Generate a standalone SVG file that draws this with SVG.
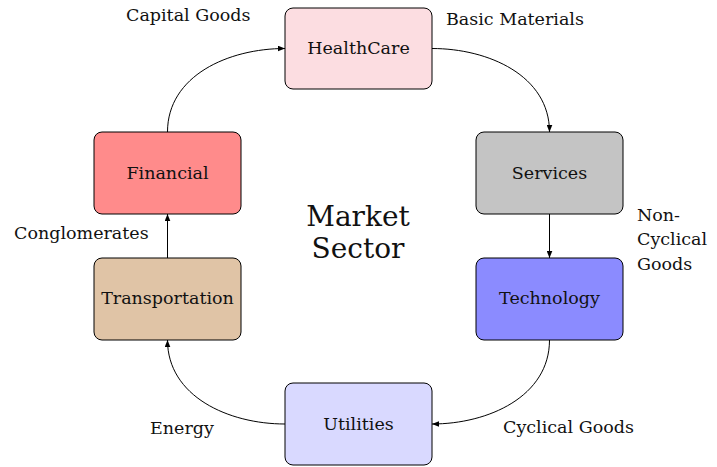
<svg xmlns="http://www.w3.org/2000/svg" width="717" height="467" viewBox="0 0 717 467">
<style>
.n{stroke:#000;stroke-width:1}
.t{font-family:'DejaVu Serif','Liberation Serif',serif;font-size:17.5px;fill:#111}
.c{text-anchor:middle}
.m{font-size:28px}
.e{fill:none;stroke:#000;stroke-width:1;marker-end:url(#a)}
</style>
<defs>
<marker id="a" viewBox="0 0 10 8" refX="10" refY="4" markerWidth="7" markerHeight="6" orient="auto" markerUnits="userSpaceOnUse">
<path d="M0,0 L10,4 L0,8 Z" fill="#000"/>
</marker>
</defs>
<rect width="717" height="467" fill="#fff"/>
<g id="connectors">
<path class="e" d="M167.5,132 C167.5,75.6 228.6,48.5 285,48.5"/>
<path class="e" d="M432,48.5 C488.4,48.5 549.5,75.6 549.5,132"/>
<path class="e" d="M549.5,214 L549.5,258"/>
<path class="e" d="M549.5,340 C549.5,396.4 488.4,424 432,424"/>
<path class="e" d="M285,424 C228.6,424 167.5,396.4 167.5,340"/>
<path class="e" d="M167.5,258 L167.5,214"/>
</g>
<g id="healthcare"><rect class="n" x="285" y="8" width="147" height="81" rx="8" fill="#fcdde1"/><text class="t c" x="358.5" y="54">HealthCare</text></g>
<g id="services"><rect class="n" x="476" y="132" width="147" height="82" rx="8" fill="#c4c4c4"/><text class="t c" x="549.5" y="179">Services</text></g>
<g id="technology"><rect class="n" x="476" y="258" width="147" height="82" rx="8" fill="#8b8bff"/><text class="t c" x="549.5" y="304">Technology</text></g>
<g id="utilities"><rect class="n" x="285" y="383" width="147" height="82" rx="8" fill="#d9d9ff"/><text class="t c" x="358.5" y="430">Utilities</text></g>
<g id="transportation"><rect class="n" x="94" y="258" width="147" height="82" rx="8" fill="#e0c4a6"/><text class="t c" x="167.5" y="304">Transportation</text></g>
<g id="financial"><rect class="n" x="94" y="132" width="147" height="82" rx="8" fill="#ff8b8b"/><text class="t c" x="167.5" y="179">Financial</text></g>
<g id="labels">
<text class="t" x="126" y="21">Capital Goods</text>
<text class="t" x="446" y="25">Basic Materials</text>
<text class="t" x="637" y="221">Non-</text>
<text class="t" x="637" y="245">Cyclical</text>
<text class="t" x="637" y="270">Goods</text>
<text class="t" x="14" y="239">Conglomerates</text>
<text class="t" x="150" y="434">Energy</text>
<text class="t" x="503" y="433">Cyclical Goods</text>
<text class="t c m" x="358" y="226">Market</text>
<text class="t c m" x="358" y="258">Sector</text>
</g>
</svg>
